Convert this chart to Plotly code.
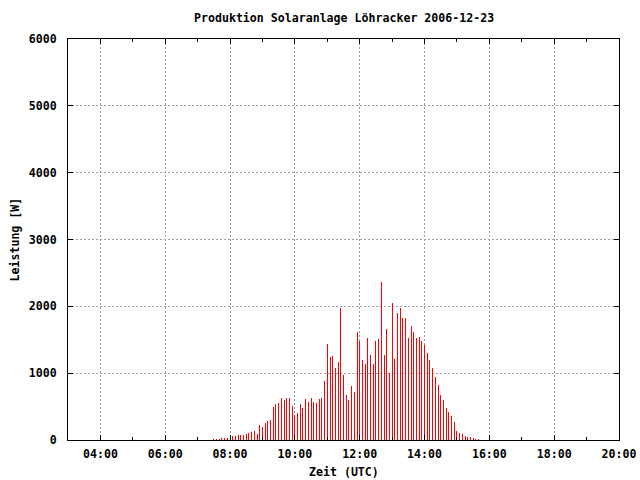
import plotly.graph_objects as go

DAY = "2006-12-23"

times = [
    "07:30", "07:35", "07:40", "07:45", "07:50", "07:55", "08:00", "08:05", "08:10", "08:15",
    "08:20", "08:25", "08:30", "08:35", "08:40", "08:45", "08:50", "08:55", "09:00", "09:05",
    "09:10", "09:15", "09:20", "09:25", "09:30", "09:35", "09:40", "09:45", "09:50", "09:55",
    "10:00", "10:05", "10:10", "10:15", "10:20", "10:25", "10:30", "10:35", "10:40", "10:45",
    "10:50", "10:55", "11:00", "11:05", "11:10", "11:15", "11:20", "11:25", "11:30", "11:35",
    "11:40", "11:45", "11:50", "11:55", "12:00", "12:05", "12:10", "12:15", "12:20", "12:25",
    "12:30", "12:35", "12:40", "12:45", "12:50", "12:55", "13:00", "13:05", "13:10", "13:15",
    "13:20", "13:25", "13:30", "13:35", "13:40", "13:45", "13:50", "13:55", "14:00", "14:05",
    "14:10", "14:15", "14:20", "14:25", "14:30", "14:35", "14:40", "14:45", "14:50", "14:55",
    "15:00", "15:05", "15:10", "15:15", "15:20", "15:25", "15:30", "15:35", "15:40",
]

power_w = [
    15, 15, 15, 30, 30, 30, 60, 60, 60, 75,
    75, 75, 90, 105, 120, 135, 90, 225, 195, 255,
    285, 300, 495, 540, 555, 630, 600, 630, 630, 510,
    375, 405, 540, 480, 615, 570, 630, 570, 555, 615,
    630, 885, 1440, 1245, 1260, 1080, 1170, 1980, 975, 675,
    600, 810, 720, 1620, 1485, 1200, 1140, 1530, 1275, 1140,
    1485, 1515, 2370, 1275, 1665, 1005, 2055, 1215, 1905, 1980,
    1830, 1830, 1530, 1710, 1620, 1530, 1545, 1485, 1425, 1305,
    1200, 1080, 945, 825, 675, 600, 480, 420, 360, 270,
    135, 105, 90, 60, 45, 45, 30, 15, 15,
]

x_ticks = ["04:00", "06:00", "08:00", "10:00", "12:00", "14:00", "16:00", "18:00", "20:00"]
y_ticks = [0, 1000, 2000, 3000, 4000, 5000, 6000]

title_text = "Produktion Solaranlage Löhracker 2006-12-23"
x_title = "Zeit (UTC)"
y_title = "Leistung [W]"

# impulses: vertical line from 0 to value for each sample
xs, ys = [], []
for t, v in zip(times, power_w):
    ts = f"{DAY} {t}:00"
    xs += [ts, ts, None]
    ys += [0, v, None]

FONT = "DejaVu Sans Mono"
FS = 11.6

fig = go.Figure()
fig.add_trace(go.Scatter(
    x=xs, y=ys, mode="lines",
    line=dict(color="#ff0000", width=1),
    connectgaps=False, showlegend=False, hoverinfo="skip",
))

fig.update_layout(
    width=640, height=480,
    margin=dict(l=68, r=21, t=39, b=40, pad=0, autoexpand=False),
    paper_bgcolor="white", plot_bgcolor="white",
    font=dict(family=FONT, size=FS, color="black", weight="bold"),
    showlegend=False,
)

fig.update_xaxes(
    type="date",
    range=[f"{DAY} 03:00:00", f"{DAY} 20:00:00"],
    tickvals=[f"{DAY} {t}:00" for t in x_ticks],
    ticktext=x_ticks,
    ticks="inside", ticklen=5, tickcolor="black", tickwidth=1,
    showline=True, linecolor="black", linewidth=1, mirror="ticks",
    showgrid=True, gridcolor="#a0a0a0", gridwidth=1, griddash="2px,2px",
    zeroline=False,
    ticklabelstandoff=3,
    minor=dict(ticks="inside", ticklen=3, tickcolor="black", dtick=3600000,
               showgrid=False),
    tickfont=dict(family=FONT, size=FS, color="black", weight="bold"),
)

fig.update_yaxes(
    range=[0, 6000],
    tickvals=y_ticks,
    ticktext=[str(v) for v in y_ticks],
    ticks="inside", ticklen=5, tickcolor="black", tickwidth=1,
    showline=True, linecolor="black", linewidth=1, mirror="ticks",
    showgrid=True, gridcolor="#a0a0a0", gridwidth=1, griddash="2px,2px",
    zeroline=False,
    ticklabelstandoff=8,
    tickfont=dict(family=FONT, size=FS, color="black", weight="bold"),
)

fig.add_annotation(
    text=title_text, xref="paper", yref="paper", x=0.5, y=1,
    yshift=21, showarrow=False, xanchor="center", yanchor="middle",
    font=dict(family=FONT, size=FS, color="black", weight="bold"),
)
fig.add_annotation(
    text=x_title, xref="paper", yref="paper", x=0.5, y=0,
    yshift=-32, showarrow=False, xanchor="center", yanchor="middle",
    font=dict(family=FONT, size=FS, color="black", weight="bold"),
)
fig.add_annotation(
    text=y_title, xref="paper", yref="paper", x=0, y=0.5,
    xshift=-54, showarrow=False, textangle=-90,
    xanchor="center", yanchor="middle",
    font=dict(family=FONT, size=FS, color="black", weight="bold"),
)

fig.write_html(
    "out.html",
    config={"displayModeBar": False},
    post_script=(
        "document.body.style.margin='0';document.body.style.padding='0';"
        "document.querySelectorAll('.scatterlayer path').forEach(function(p){"
        "p.style.shapeRendering='crispEdges';});"
    ),
)
